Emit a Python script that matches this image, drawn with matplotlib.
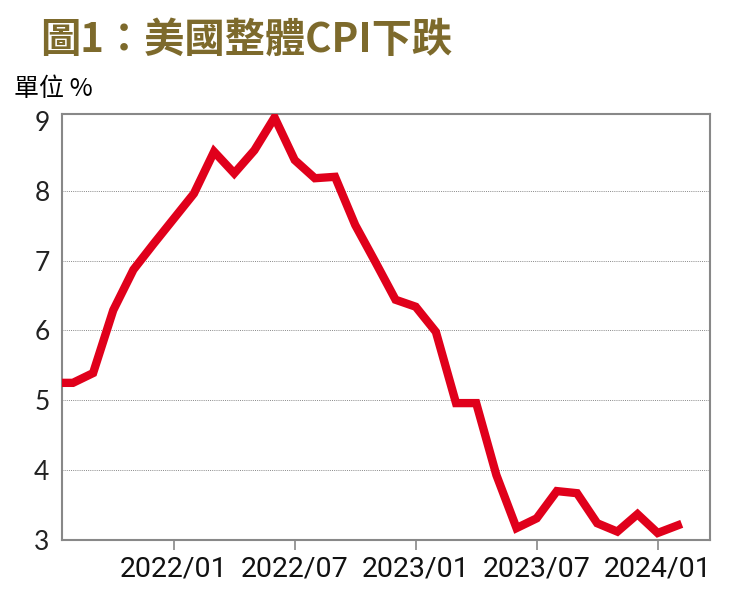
import matplotlib.pyplot as plt
import numpy as np

# US CPI YoY (%), monthly 2021/07 .. 2024/02
months = ['2021/07', '2021/08', '2021/09', '2021/10', '2021/11', '2021/12',
          '2022/01', '2022/02', '2022/03', '2022/04', '2022/05', '2022/06',
          '2022/07', '2022/08', '2022/09', '2022/10', '2022/11', '2022/12',
          '2023/01', '2023/02', '2023/03', '2023/04', '2023/05', '2023/06',
          '2023/07', '2023/08', '2023/09', '2023/10', '2023/11', '2023/12',
          '2024/01', '2024/02']
cpi = [5.25, 5.25, 5.39, 6.29, 6.87, 7.24,
       7.6, 7.96, 8.56, 8.25, 8.58, 9.05,
       8.44, 8.18, 8.2, 7.51, 6.98, 6.44,
       6.34, 5.98, 4.96, 4.96, 3.93, 3.17,
       3.31, 3.7, 3.67, 3.24, 3.12, 3.37,
       3.1, 3.21]
tick_labels = ['2022/01', '2022/07', '2023/01', '2023/07', '2024/01']
y_ticks = [3, 4, 5, 6, 7, 8, 9]

cjk = ['Noto Sans CJK TC', 'DejaVu Sans']
x = np.arange(len(months))

fig = plt.figure(figsize=(7.42, 6.03), dpi=100)
ax = fig.add_axes([0.0836, 0.1045, 0.8734, 0.7065])

for g in [4, 5, 6, 7, 8]:
    ax.axhline(g, color='#888888', lw=0.7, ls=(0, (1, 1.2)), zorder=1)
ax.plot(x, cpi, color='#e0001b', lw=6, solid_joinstyle='miter', zorder=3)

ax.set_xlim(0.46, 32.6)
ax.set_ylim(3.0, 9.1)
ax.set_xticks([months.index(t) for t in tick_labels])
ax.set_xticklabels(tick_labels, family=['Roboto', 'DejaVu Sans'], fontsize=20.5,
                   color='#111111')
ax.set_yticks(y_ticks)
ax.set_yticklabels([str(v) for v in y_ticks], family=['Lato', 'DejaVu Sans'],
                   fontsize=19, color='#222222')
ax.tick_params(axis='x', direction='out', length=7, width=1.2, color='#888888', pad=4)
ax.tick_params(axis='y', length=0, pad=9)
for s in ax.spines.values():
    s.set_color('#888888')
    s.set_linewidth(1.5)

fig.text(40 / 742, 1 - 40 / 603, '圖1：美國整體CPI下跌', family=cjk, fontsize=29,
         fontweight='bold', color='#7d6a2c', va='center', ha='left')
fig.text(14 / 742, 1 - 89 / 603, '單位 %', family=cjk, fontsize=18,
         color='black', va='center', ha='left')

fig.savefig('out.png', dpi=100)
